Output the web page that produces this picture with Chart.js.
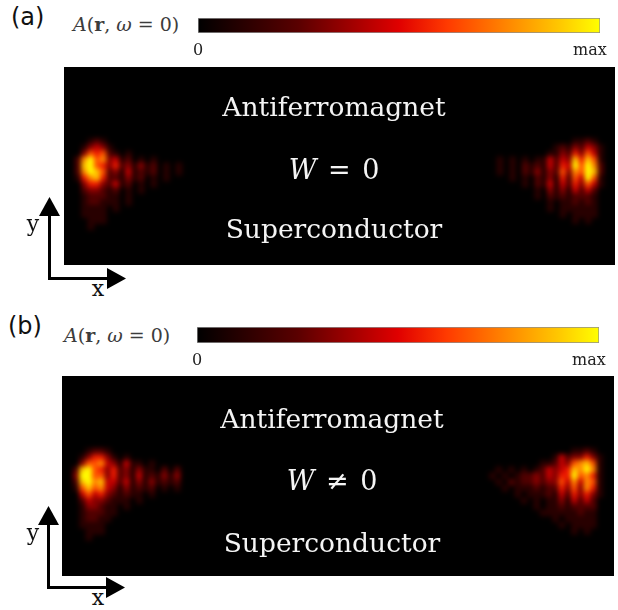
<!DOCTYPE html>
<html>
<head>
<meta charset="utf-8">
<script src="https://cdn.jsdelivr.net/npm/chart.js@4.4.1/dist/chart.umd.min.js"></script>
<style>
  body { margin: 0; width: 618px; height: 610px; background: #fff; position: relative; overflow: hidden; font-family: "DejaVu Serif", serif; }
  .abs { position: absolute; white-space: nowrap; }
  .panel { position: absolute; background: #000; overflow: hidden; }
  .panel canvas { position: absolute; left: 0; top: 0; filter: blur(2.6px); }
  .tag { font-family: "DejaVu Sans", sans-serif; font-size: 24px; line-height: 24px; color: #111; }
  .spec { font-size: 19px; line-height: 19px; color: #3c3c3c; }
  .inside { left: 0; width: 540px; text-align: center; color: #f4f4f4; font-size: 26.5px; line-height: 26px; }
  .math { font-size: 27px; word-spacing: 3px; }
  .axl { font-size: 22px; line-height: 22px; width: 30px; text-align: center; color: #111; }
</style>
</head>
<body>

<!-- (a) -->
<div class="abs tag" style="left:11px;top:5px">(a)</div>
<div class="abs spec" style="left:73px;top:15px"><i>A</i>(<b>r</b>, <i>ω</i> = 0)</div>
<canvas id="cbA" class="abs" style="left:178px;top:10px" width="440" height="52"></canvas>
<div class="panel" style="left:64px;top:67px;width:551px;height:198px">
  <canvas id="mapA" width="551" height="198"></canvas>
  <div class="abs inside" style="top:27px">Antiferromagnet</div>
  <div class="abs inside math" style="top:90px"><i>W</i> = 0</div>
  <div class="abs inside" style="top:149px">Superconductor</div>
</div>
<div class="abs axl" style="left:18px;top:213px">y</div>
<div class="abs axl" style="left:83px;top:278px">x</div>

<!-- (b) -->
<div class="abs tag" style="left:8px;top:314px">(b)</div>
<div class="abs spec" style="left:64px;top:326px"><i>A</i>(<b>r</b>, <i>ω</i> = 0)</div>
<canvas id="cbB" class="abs" style="left:177px;top:319px" width="440" height="53"></canvas>
<div class="panel" style="left:62px;top:376px;width:552px;height:200px">
  <canvas id="mapB" width="552" height="200"></canvas>
  <div class="abs inside" style="top:30px">Antiferromagnet</div>
  <div class="abs inside math" style="top:92px"><i>W</i> ≠ 0</div>
  <div class="abs inside" style="top:154px">Superconductor</div>
</div>
<div class="abs axl" style="left:18px;top:522px">y</div>
<div class="abs axl" style="left:83px;top:587px">x</div>

<svg class="abs" style="left:0;top:0" width="618" height="610">
  <g id="axes" fill="#000">
    <polyline points="49.5,212 49.5,278.5 110,278.5" fill="none" stroke="#000" stroke-width="3" stroke-linejoin="miter"/>
    <polygon points="49.5,197 39,216 60,216"/>
    <polygon points="126,278.5 107,268 107,289"/>
  </g>
  <use href="#axes" transform="translate(-1,309)"/>
</svg>

<script>
// lattice of the map: 86 x 31 sites, clusters only near the two edges
const COLS = 86
const ROWS = 31
const ROW0 = 10
const LEFT_COL = 0
const RIGHT_COL = 65

// intensity 0..9 per site (rows start at ROW0)
const A_LEFT = [
  '0',
  '0001210',
  '0013431000',
  '003656210100',
  '02796734120101',
  '028965352313120101',
  '027986231412120101',
  '0157852213120101',
  '00355324120101',
  '002332120101',
  '0012221101',
  '0012211101',
  '00111101',
  '001111',
  '000111',
  '0001'
]
const A_RIGHT = [
  '0',
  '00000000000000011210',
  '00000000000012132431',
  '00000000000113253641',
  '00010101011424385861',
  '00010102121425496972',
  '00010102131326376982',
  '00000101021315264961',
  '00000001021414253641',
  '00000000010313142420',
  '00000000010212122210',
  '00000000000101121210',
  '0000000000010111111',
  '0000000000000101111',
  '000000000000000101'
]
const B_LEFT = [
  '0',
  '0001221',
  '0013553101',
  '00366743141101',
  '028965352313110202',
  '039966352314121313',
  '028978442413131212',
  '016867431312120101',
  '00464532121101',
  '002433211101',
  '0013321101',
  '00122211',
  '0012211',
  '001111',
  '000111',
  '0001'
]
const B_RIGHT = [
  '0',
  '00000000000000011210',
  '00000000000014233531',
  '00000000001124367861',
  '00010101012434587971',
  '00101012232435596751',
  '00010212232336474761',
  '00001011121225363751',
  '00000010111214253531',
  '00000001010113142420',
  '0000000001011212222',
  '0000000000111111211',
  '0000000000001011111',
  '0000000000000101111',
  '000000000000000101'
]

const CB_TICKS = [0, 0.975]
const CB_LABELS = ['0', 'max']

// colour map black -> red -> yellow
const HOT_POS = [0, 0.25, 0.5, 0.62, 0.78, 0.9, 1]
const HOT_RGB = [[0, 0, 0], [90, 0, 0], [224, 0, 0], [255, 58, 0], [255, 140, 0], [255, 200, 0], [255, 255, 0]]

function hot(v) {
    v = Math.max(0, Math.min(1, v))
    let k = 1
    while (k < HOT_POS.length - 1 && v > HOT_POS[k]) k++
    const t = (v - HOT_POS[k - 1]) / (HOT_POS[k] - HOT_POS[k - 1])
    const a = HOT_RGB[k - 1], b = HOT_RGB[k]
    const c = a.map((x, n) => Math.round(x + (b[n] - x) * t))
    return 'rgb(' + c.join(',') + ')'
}

function cells(rows, col0) {
    const pts = []
    rows.forEach((row, r) => {
        for (let c = 0; c < row.length; c++) {
            const d = Number(row[c])
            if (d > 0) pts.push({ x: col0 + c, y: ROW0 + r, v: d / 9 })
        }
    })
    return pts
}

const blackBg = {
    id: 'blackBg',
    beforeDraw(chart) {
        const { ctx, chartArea: a } = chart
        ctx.save()
        ctx.fillStyle = '#000'
        ctx.fillRect(a.left, a.top, a.width, a.height)
        ctx.restore()
    }
}

function heatmap(id, left, right) {
    const canvas = document.getElementById(id)
    const side = canvas.width / COLS
    const data = cells(left, LEFT_COL).concat(cells(right, RIGHT_COL))
    return new Chart(canvas, {
        type: 'scatter',
        data: {
            datasets: [{
                data: data,
                pointStyle: 'rect',
                pointRadius: side / Math.SQRT2 + 0.3,
                pointBorderWidth: 0,
                pointBackgroundColor: c => (c.raw ? hot(c.raw.v) : '#000')
            }]
        },
        options: {
            responsive: false,
            animation: false,
            events: [],
            devicePixelRatio: 1,
            layout: { padding: 0 },
            plugins: { legend: { display: false }, tooltip: { enabled: false } },
            scales: {
                x: { type: 'linear', display: false, min: -0.5, max: COLS - 0.5 },
                y: { type: 'linear', display: false, min: -0.5, max: ROWS - 0.5, reverse: true }
            }
        },
        plugins: [blackBg]
    })
}

function colorbar(id) {
    return new Chart(document.getElementById(id), {
        type: 'bar',
        data: {
            labels: [''],
            datasets: [{
                data: [1],
                backgroundColor: c => {
                    const area = c.chart.chartArea
                    if (!area) return '#000'
                    const g = c.chart.ctx.createLinearGradient(area.left, 0, area.right, 0)
                    HOT_POS.forEach((p, n) => g.addColorStop(p, 'rgb(' + HOT_RGB[n].join(',') + ')'))
                    return g
                },
                borderColor: '#8f8f8f',
                borderWidth: 1,
                borderSkipped: false,
                barPercentage: 1,
                categoryPercentage: 1
            }]
        },
        options: {
            indexAxis: 'y',
            responsive: false,
            animation: false,
            events: [],
            devicePixelRatio: 1,
            layout: { padding: { left: 20, right: 18, top: 8, bottom: 2 } },
            plugins: { legend: { display: false }, tooltip: { enabled: false } },
            scales: {
                y: { display: false },
                x: {
                    min: 0,
                    max: 1,
                    grid: { display: false, drawTicks: false },
                    border: { display: false },
                    afterBuildTicks: s => { s.ticks = CB_TICKS.map(v => ({ value: v })) },
                    afterFit: s => { s.height = 27 },
                    ticks: {
                        padding: 8,
                        autoSkip: false,
                        maxRotation: 0,
                        color: '#222',
                        font: { family: 'DejaVu Serif', size: 16 },
                        callback: (v, i) => CB_LABELS[i]
                    }
                }
            }
        }
    })
}

heatmap('mapA', A_LEFT, A_RIGHT)
heatmap('mapB', B_LEFT, B_RIGHT)
colorbar('cbA')
colorbar('cbB')
</script>
</body>
</html>
